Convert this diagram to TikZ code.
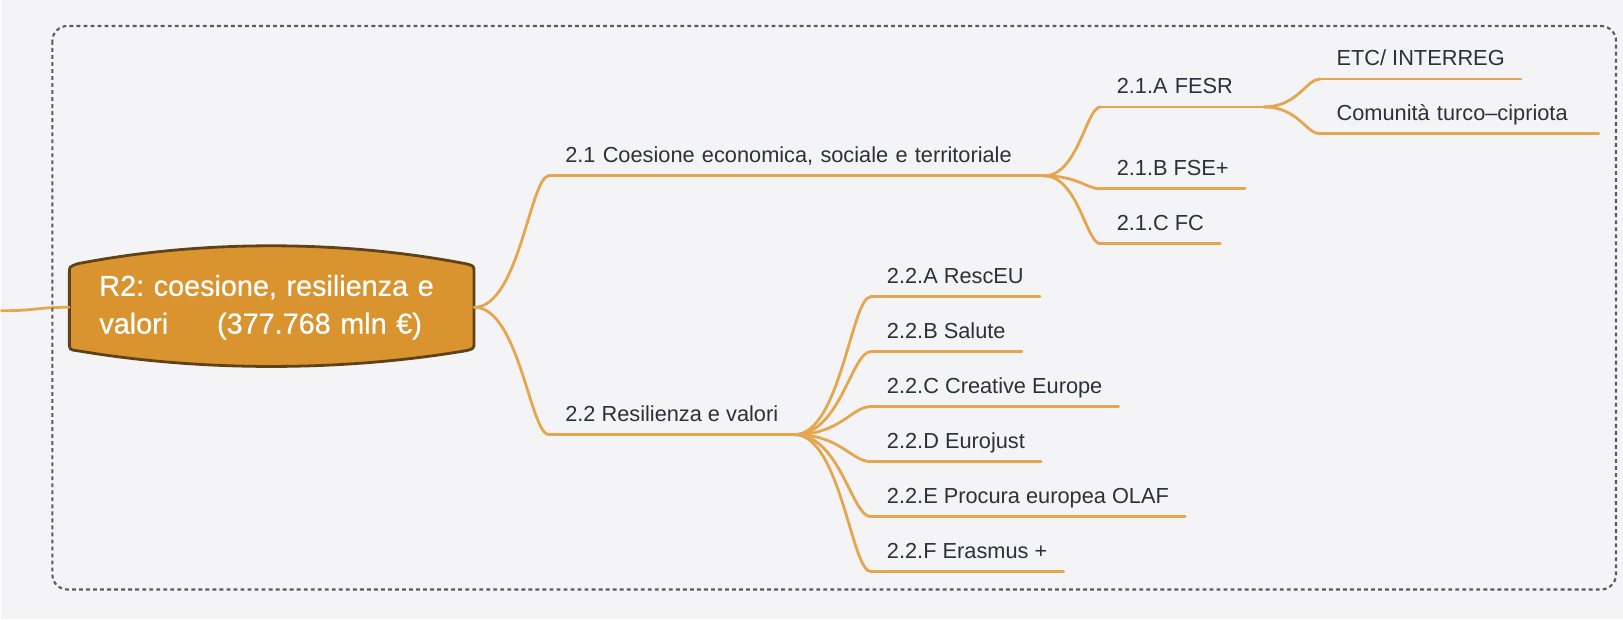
\documentclass[tikz,border=0pt]{standalone}
\usepackage{fontspec}
\setmainfont{Liberation Sans}
\newfontfamily\rootfont{Liberation Sans}[UprightFeatures={FakeBold=0.6}]
\usetikzlibrary{calc}

\definecolor{bgcol}{HTML}{F4F4F6}
\definecolor{linecol}{HTML}{E4A74F}
\definecolor{rootfill}{HTML}{D9942F}
\definecolor{rootedge}{HTML}{5E4319}
\definecolor{txtcol}{HTML}{2B303B}
\definecolor{framecol}{HTML}{5B5B5E}

\begin{document}
\begin{tikzpicture}[x=0.02cm, y=-0.02cm,
  rule/.style={draw=linecol, line width=1.6pt, line cap=round},
  twig/.style={rule, to path={let \p1=(\tikztostart), \p2=(\tikztotarget) in
      .. controls ({\x1+0.6*(\x2-\x1)},\y1) and ({\x1+0.75*(\x2-\x1)},\y2) .. (\tikztotarget)}},
  leaf/.style={anchor=south west, inner xsep=0.32cm, inner ysep=0.26cm, text depth=0pt,
      text=txtcol, font=\fontsize{12.4}{15}\selectfont\frenchspacing},
  wideleaf/.style={leaf, text width=#1, align=left}]

  % 0) canvas
  \fill[bgcol] (0,0) rectangle (1623,620);
  \coordinate (in) at (0,311);

  % 1) root topic
  \filldraw[fill=rootfill, draw=rootedge, line width=1.6pt]
    (68,342) -- (68,273) .. controls (68,267) .. (76,264)
    .. controls (200,240) and (340,240) .. (465,264)
    .. controls (473,266) .. (473,273) -- (473,342)
    .. controls (473,349) .. (465,351)
    .. controls (340,372) and (200,372) .. (76,351)
    .. controls (68,350) .. (68,342) -- cycle;
  \node[minimum width=8.1cm, minimum height=1.7cm, text width=6.9cm, align=left,
        text=white, font=\rootfont\fontsize{16.4}{21.5}\selectfont\frenchspacing] (r2) at (270.5,307.5)
    {R2: coesione, resilienza e\\valori\hspace{0.98cm}(377.768 mln €)};
  \draw[rule] (in) .. controls (35,311) and (35,307.5) .. (r2.west);
  \draw[framecol, line width=1.2pt, dash pattern=on 2.2pt off 1.8pt, rounded corners=0.3cm]
    (51,26) rectangle (1616,590);

  % 2) main branches
  \node[wideleaf=9.26cm] (c21) at (548,176) {2.1 Coesione economica, sociale e territoriale};
  \node[leaf] (c22) at (548,435) {2.2 Resilienza e valori};

  % 3) 2.1 subtopics
  \node[wideleaf=2.62cm] (c21a) at (1100,107) {2.1.A FESR};
  \node[leaf] (c21b) at (1100,189) {2.1.B FSE+};
  \node[leaf] (c21c) at (1100,244) {2.1.C FC};
  \node[leaf] (etc) at (1320,79) {ETC/ INTERREG};
  \node[wideleaf=4.92cm] (com) at (1320,134) {Comunità turco–cipriota};

  % 4) 2.2 subtopics
  \node[leaf] (c22a) at (870,297) {2.2.A RescEU};
  \node[leaf] (c22b) at (870,352) {2.2.B Salute};
  \node[leaf] (c22c) at (870,407) {2.2.C Creative Europe};
  \node[leaf] (c22d) at (870,462) {2.2.D Eurojust};
  \node[leaf] (c22e) at (870,517) {2.2.E Procura europea OLAF};
  \node[leaf] (c22f) at (870,572) {2.2.F Erasmus +};

  % 5) underlines and links
  \foreach \k in {c21,c22,c21a,c21b,c21c,etc,com,c22a,c22b,c22c,c22d,c22e,c22f}
    \draw[rule] (\k.south west) -- (\k.south east);
  \draw[twig] (r2.east) to (c21.south west);
  \draw[twig] (r2.east) to (c22.south west);
  \foreach \k in {c21a,c21b,c21c}
    \draw[twig] (c21.south east) to (\k.south west);
  \foreach \k in {etc,com}
    \draw[twig] (c21a.south east) to (\k.south west);
  \foreach \k in {c22a,c22b,c22c,c22d,c22e,c22f}
    \draw[twig] (c22.south east) to (\k.south west);
\end{tikzpicture}
\end{document}
